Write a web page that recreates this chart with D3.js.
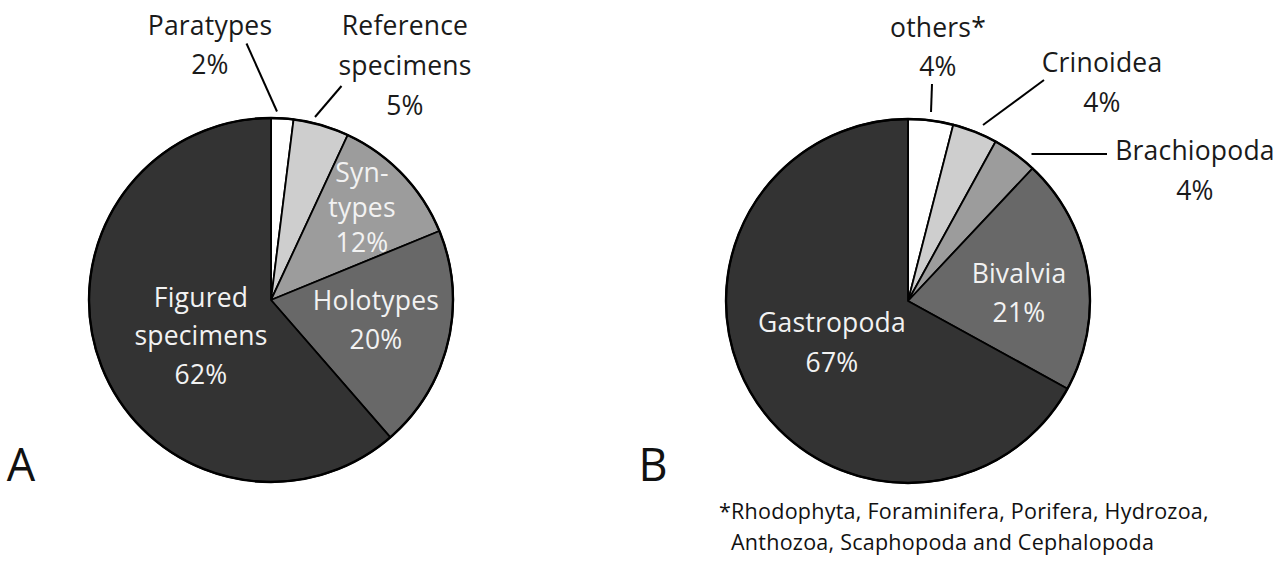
<!DOCTYPE html>
<html><head><meta charset="utf-8">
<script src="https://cdn.jsdelivr.net/npm/d3@7"></script>
<style>
html,body{margin:0;padding:0;background:#fff;}
svg{display:block;}
text{font-family:"Open Sans","Noto Sans",sans-serif;}
</style></head>
<body>
<svg id="chart" width="1282" height="575"></svg>
<script>
// ---- data ----
const categoriesA = ["Paratypes", "Reference specimens", "Syntypes", "Holotypes", "Figured specimens"];
const valuesA = [2, 5, 12, 20, 62];
const labelNamesA = [["Paratypes"], ["Reference", "specimens"], ["Syn-", "types"], ["Holotypes"], ["Figured", "specimens"]];

const categoriesB = ["others*", "Crinoidea", "Brachiopoda", "Bivalvia", "Gastropoda"];
const valuesB = [4, 4, 4, 21, 67];
const labelNamesB = [["others*"], ["Crinoidea"], ["Brachiopoda"], ["Bivalvia"], ["Gastropoda"]];

const footnoteLines = ["*Rhodophyta, Foraminifera, Porifera, Hydrozoa,", "Anthozoa, Scaphopoda and Cephalopoda"];
const panelLetters = ["A", "B"];

// ---- styles / layout ----
const fills = ["#ffffff", "#cecece", "#9c9c9c", "#686868", "#333333"];
const R = 182;
const svg = d3.select("#chart");

const layoutA = {
  center: [271, 300],
  labels: [
    {x: 210, y: 35, lh: 39, c: "#1a1a1a", line: [[246.5, 43.5], [277, 111.5]]},
    {x: 405, y: 35, lh: 40, c: "#1a1a1a", line: [[341.5, 86], [315, 117]]},
    {x: 362, y: 182, lh: 35, c: "#f2f2f2", line: null},
    {x: 376, y: 310, lh: 38.5, c: "#f2f2f2", line: null},
    {x: 201, y: 307, lh: 38.3, c: "#f2f2f2", line: null}
  ]
};
const layoutB = {
  center: [908, 301],
  labels: [
    {x: 938, y: 37, lh: 39, c: "#1a1a1a", line: [[932, 84], [931, 112]]},
    {x: 1102, y: 72, lh: 40, c: "#1a1a1a", line: [[1044, 80], [983, 125]]},
    {x: 1195, y: 160, lh: 40, c: "#1a1a1a", line: [[1031.5, 154], [1107, 154]]},
    {x: 1019, y: 283, lh: 39, c: "#f2f2f2", line: null},
    {x: 832, y: 332, lh: 39.5, c: "#f2f2f2", line: null}
  ]
};

function drawPie(values, names, cats, layout) {
  const g = svg.append("g").attr("transform", `translate(${layout.center[0]},${layout.center[1]})`);
  const pie = d3.pie().sort(null).value(d => d);
  const arc = d3.arc().innerRadius(0).outerRadius(R);
  const arcs = pie(values);
  g.selectAll("path.slice").data(arcs).join("path")
    .attr("class", "slice")
    .attr("d", arc)
    .attr("fill", (d, i) => fills[i])
    .attr("stroke", "#000")
    .attr("stroke-width", 1.8)
    .attr("stroke-linejoin", "round");
  g.append("circle").attr("r", R).attr("fill", "none").attr("stroke", "#000").attr("stroke-width", 2.4);

  layout.labels.forEach(l => {
    if (l.line) {
      svg.append("line")
        .attr("x1", l.line[0][0]).attr("y1", l.line[0][1])
        .attr("x2", l.line[1][0]).attr("y2", l.line[1][1])
        .attr("stroke", "#000").attr("stroke-width", 2);
    }
  });
  values.forEach((v, i) => {
    const l = layout.labels[i];
    const lines = names[i].concat([v + "%"]);
    const t = svg.append("text")
      .attr("x", l.x).attr("y", l.y)
      .attr("text-anchor", "middle")
      .attr("font-size", 26.5)
      .attr("letter-spacing", 0.2)
      .attr("fill", l.c);
    lines.forEach((s, k) => {
      t.append("tspan").attr("x", l.x).attr("dy", k === 0 ? 0 : l.lh).text(s);
    });
  });
}

drawPie(valuesA, labelNamesA, categoriesA, layoutA);
drawPie(valuesB, labelNamesB, categoriesB, layoutB);

const letterPos = [[21, 481], [653, 481]];
panelLetters.forEach((s, i) => {
  svg.append("text").attr("x", letterPos[i][0]).attr("y", letterPos[i][1])
    .attr("text-anchor", "middle").attr("font-size", 45).attr("fill", "#111").text(s);
});

const fn = svg.append("text").attr("font-size", 21.5).attr("fill", "#111").attr("letter-spacing", 0.25);
fn.append("tspan").attr("x", 719).attr("y", 519).text(footnoteLines[0]);
fn.append("tspan").attr("x", 731).attr("y", 550).text(footnoteLines[1]);
</script>
</body></html>
